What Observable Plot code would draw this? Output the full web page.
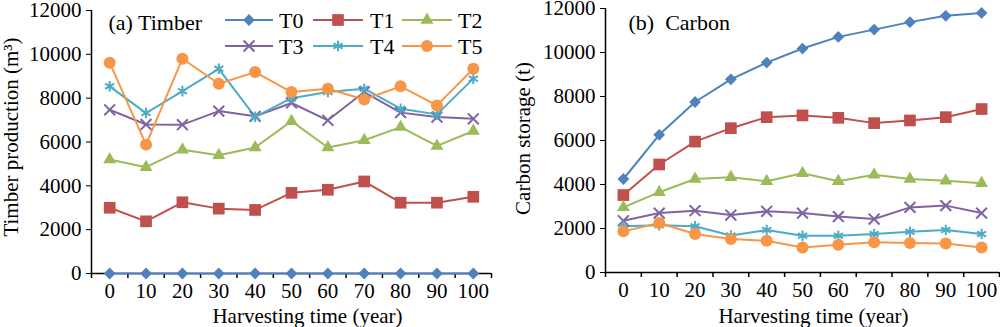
<!DOCTYPE html>
<html><head><meta charset="utf-8">
<script src="https://cdn.jsdelivr.net/npm/d3@7"></script>
<script src="https://cdn.jsdelivr.net/npm/@observablehq/plot@0.6"></script>
<style>
body{margin:0;background:#fff;}
#wrap{position:relative;width:1000px;height:327px;font-family:"Liberation Serif","Times New Roman",serif;overflow:hidden;}
#a,#b{position:absolute;top:0;}
#legend{position:absolute;left:0;top:0;}
</style></head><body>
<div id="wrap"><div id="a" style="left:0"></div><div id="b" style="left:500px"></div><svg id="legend" width="500" height="70"></svg></div>
<script>
const years = [0,10,20,30,40,50,60,70,80,90,100];
const series = ["T0","T1","T2","T3","T4","T5"];
const colors = ["#4F81BD","#C0504D","#9BBB59","#8064A2","#4BACC6","#F79646"];
const symbols = ["diamond2","square","triangle","times","asterisk","circle"];
const yTicks = [0,2000,4000,6000,8000,10000,12000];

// (a) Timber production (m3)
const timberT0 = [0,0,0,0,0,0,0,0,0,0,0];
const timberT1 = [3000,2380,3250,2960,2900,3680,3820,4200,3230,3230,3500];
const timberT2 = [5200,4850,5650,5400,5750,6950,5750,6080,6680,5820,6500];
const timberT3 = [7470,6800,6790,7410,7170,7780,6990,8280,7340,7140,7060];
const timberT4 = [8540,7320,8320,9340,7150,8000,8280,8430,7520,7260,8890];
const timberT5 = [9620,5880,9800,8660,9190,8280,8430,7940,8540,7670,9340];

// (b) Carbon storage (t)
const carbonT0 = [4250,6260,7750,8780,9540,10180,10710,11040,11380,11670,11800];
const carbonT1 = [3520,4910,5950,6560,7060,7140,7030,6790,6910,7060,7430];
const carbonT2 = [2960,3650,4250,4330,4150,4510,4150,4440,4250,4170,4060];
const carbonT3 = [2350,2700,2810,2610,2780,2700,2540,2430,2960,3040,2700];
const carbonT4 = [2100,2150,2100,1680,1930,1670,1670,1750,1850,1930,1750];
const carbonT5 = [1870,2250,1750,1520,1440,1140,1260,1370,1340,1320,1140];

const timber = [timberT0,timberT1,timberT2,timberT3,timberT4,timberT5];
const carbon = [carbonT0,carbonT1,carbonT2,carbonT3,carbonT4,carbonT5];

const radii = [5.3,6.6,4.8,5.0,5.0,6.0];
const stroked = [false,false,false,true,true,false];
const FONT = '"Liberation Serif","Times New Roman",serif';

function toLong(arrs){
  const out=[];
  arrs.forEach((arr,i)=>arr.forEach((v,j)=>out.push({s:series[i],year:years[j],value:v})));
  return out;
}

function panel(el, arrs, o){
  const data = toLong(arrs);
  const step = years[1]-years[0];
  const xDomain = [years[0]-step/2, years[years.length-1]+step/2];
  const bounds = [xDomain[0], ...years.map(y=>y+step/2)];
  const marks = [
    Plot.axisY({ticks:yTicks, tickSize:5, tickPadding:5, tickFormat:d=>String(d), label:null, fontSize:21}),
    Plot.axisX({ticks:years, tickSize:0, tickPadding:10, tickFormat:d=>String(d), label:null, fontSize:21}),
    Plot.axisX({ticks:bounds, tickSize:5, tickFormat:()=>"", label:null, strokeWidth:1.5}),
    Plot.ruleX([xDomain[0]], {stroke:"#000", strokeWidth:1.5}),
    Plot.ruleY([0], {stroke:"#000", strokeWidth:1.5}),
  ];
  series.forEach((s,i)=>{
    const d = data.filter(r=>r.s===s);
    marks.push(Plot.line(d,{x:"year",y:"value",stroke:colors[i],strokeWidth:2}));
  });
  series.forEach((s,i)=>{
    const d = data.filter(r=>r.s===s);
    if (stroked[i]) marks.push(Plot.dot(d,{x:"year",y:"value",symbol:symbols[i],stroke:colors[i],strokeWidth:2,r:radii[i]}));
    else marks.push(Plot.dot(d,{x:"year",y:"value",symbol:symbols[i],fill:colors[i],stroke:"none",r:radii[i]}));
  });
  marks.push(Plot.text([o.title],{frameAnchor:"top-left",textAnchor:"start",lineAnchor:"middle",dx:o.titleDx,dy:o.titleDy,fontSize:22,fill:"#000"}));
  marks.push(Plot.text([o.yLabel],{frameAnchor:"left",textAnchor:"middle",lineAnchor:"middle",rotate:-90,dx:o.yLabelDx,dy:o.yLabelDy,fontSize:21,fill:"#000"}));
  marks.push(Plot.text(["Harvesting time (year)"],{frameAnchor:"bottom",textAnchor:"middle",lineAnchor:"middle",dx:o.xLabelDx,dy:o.xLabelDy,fontSize:21,fill:"#000"}));
  const chart = Plot.plot({
    width:o.width, height:327,
    marginLeft:o.marginLeft, marginRight:o.marginRight, marginTop:o.marginTop, marginBottom:o.marginBottom,
    style:{fontFamily:FONT, fontSize:"21px", color:"#000", background:"transparent", overflow:"visible"},
    x:{domain:xDomain}, y:{domain:[0,12000]},
    marks
  });
  document.getElementById(el).appendChild(chart);
}

panel("a", timber, {width:500, marginLeft:91, marginRight:9, marginTop:10, marginBottom:54,
  yLabel:"Timber production (m³)", yLabelDx:-80, yLabelDy:-5, xLabelDx:16, xLabelDy:43,
  title:"(a) Timber", titleDx:17, titleDy:12});
panel("b", carbon, {width:500, marginLeft:105, marginRight:1, marginTop:8, marginBottom:55,
  yLabel:"Carbon storage (t)", yLabelDx:-82, yLabelDy:-2, xLabelDx:11, xLabelDy:44,
  title:"(b)\u00A0 Carbon", titleDx:23, titleDy:14});

// Legend
const lg = d3.select("#legend");
const symMap = {diamond2:d3.symbolDiamond2, square:d3.symbolSquare, triangle:d3.symbolTriangle, times:d3.symbolTimes, asterisk:d3.symbolAsterisk, circle:d3.symbolCircle};
const cols = [[225,273,279],[313,363,370],[402,452,458]];
const rows = [20,46];
series.forEach((s,i)=>{
  const c = cols[i%3], y = rows[Math.floor(i/3)];
  lg.append("line").attr("x1",c[0]).attr("x2",c[1]).attr("y1",y).attr("y2",y).attr("stroke",colors[i]).attr("stroke-width",2);
  const p = d3.symbol(symMap[symbols[i]], radii[i]*radii[i]*Math.PI)();
  const sym = lg.append("path").attr("d",p).attr("transform",`translate(${(c[0]+c[1])/2},${y})`);
  if (stroked[i]) sym.attr("fill","none").attr("stroke",colors[i]).attr("stroke-width",2);
  else sym.attr("fill",colors[i]);
  lg.append("text").attr("x",c[2]).attr("y",y).attr("dy","0.35em").attr("font-size",22)
    .attr("font-family",FONT).text(s);
});
</script>
</body></html>
